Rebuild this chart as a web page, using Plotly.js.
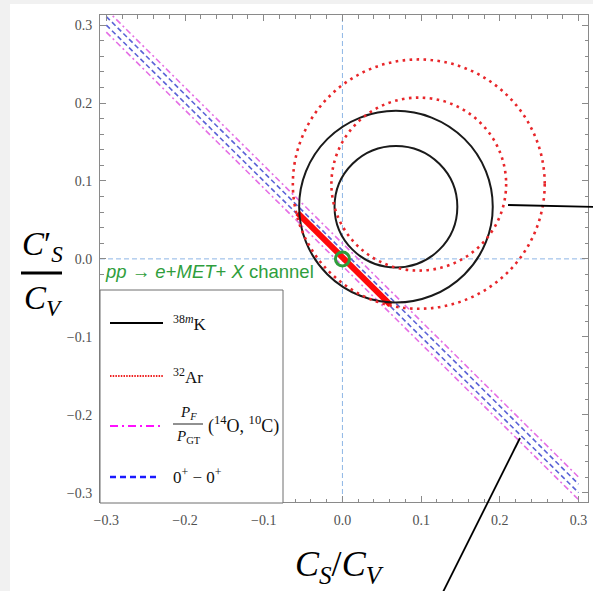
<!DOCTYPE html>
<html>
<head>
<meta charset="utf-8">
<script src="https://cdn.plot.ly/plotly-3.0.1.min.js"></script>
<style>
  html, body { margin: 0; padding: 0; background: #f1f1f1; width: 593px; height: 591px; overflow: hidden; }
  #plot { position: absolute; left: 10px; top: 4px; width: 583px; height: 587px; background: #ffffff; }
</style>
</head>
<body>
<div id="plot"></div>
<script>
// ---------------- data ----------------
// 38mK constraint: two concentric circles (solid black)
const k38Center = [0.068, 0.067];
const k38Radii = [0.078, 0.123];
// 32Ar constraint: two concentric circles (red dotted)
const ar32Center = [0.097, 0.096];
const ar32Radii = [0.111, 0.160];
// P_F/P_GT (14O, 10C) band edges (magenta dash-dot), end points
const pfX = [-0.300, 0.300];
const pfUpperY = [0.320, -0.280];
const pfLowerY = [0.291, -0.309];
// 0+ - 0+ band edges (blue dashed), end points
const zzX = [-0.300, 0.300];
const zzUpperY = [0.311, -0.289];
const zzLowerY = [0.300, -0.300];
// pp -> e + MET + X channel allowed segment (thick red)
const ppX = [-0.057, 0.061];
const ppY = [0.059, -0.059];
// Standard-model point
const smX = [0.0];
const smY = [0.0];
// tick values
const tickVals = [-0.3, -0.2, -0.1, 0.0, 0.1, 0.2, 0.3];
const tickText = ['\u22120.3', '\u22120.2', '\u22120.1', '0.0', '0.1', '0.2', '0.3'];

// ---------------- figure geometry helpers (page px -> paper) ----------------
const PL = 100, PR = 588, PT = 15, PB = 502;
const px = X => (X - PL) / (PR - PL);
const py = Y => (PB - Y) / (PB - PT);

const colBlack = '#1a1a1a';
const colRed = '#e8262a';
const colPink = '#e56fe5';
const colBlue = '#5a62d6';
const colZero = '#8db6e6';
const colGreen = '#2f9e3c';

const traces = [
  { x: pfX, y: pfUpperY, mode: 'lines', line: { color: colPink, width: 1.6, dash: '6px,3px,2px,3px' }, hoverinfo: 'skip', showlegend: false },
  { x: pfX, y: pfLowerY, mode: 'lines', line: { color: colPink, width: 1.6, dash: '6px,3px,2px,3px' }, hoverinfo: 'skip', showlegend: false },
  { x: zzX, y: zzUpperY, mode: 'lines', line: { color: colBlue, width: 1.6, dash: '5px,3px' }, hoverinfo: 'skip', showlegend: false },
  { x: zzX, y: zzLowerY, mode: 'lines', line: { color: colBlue, width: 1.6, dash: '5px,3px' }, hoverinfo: 'skip', showlegend: false },
  { x: ppX, y: ppY, mode: 'lines', line: { color: '#ff0a0a', width: 6 }, hoverinfo: 'skip', showlegend: false },
  { x: smX, y: smY, mode: 'markers', marker: { symbol: 'circle-open', size: 14, color: colGreen, line: { width: 3, color: colGreen } }, hoverinfo: 'skip', showlegend: false }
];

const shapes = [];
// zero lines
shapes.push({ type: 'line', xref: 'x', yref: 'paper', x0: 0, x1: 0, y0: 0, y1: 1, line: { color: colZero, width: 1, dash: '5px,3px' }, layer: 'below' });
shapes.push({ type: 'line', xref: 'paper', yref: 'y', x0: 0, x1: 1, y0: 0, y1: 0, line: { color: colZero, width: 1, dash: '5px,3px' }, layer: 'below' });
// circles
k38Radii.forEach(r => shapes.push({ type: 'circle', xref: 'x', yref: 'y',
  x0: k38Center[0] - r, x1: k38Center[0] + r, y0: k38Center[1] - r, y1: k38Center[1] + r,
  line: { color: colBlack, width: 2 } }));
ar32Radii.forEach(r => shapes.push({ type: 'circle', xref: 'x', yref: 'y',
  x0: ar32Center[0] - r, x1: ar32Center[0] + r, y0: ar32Center[1] - r, y1: ar32Center[1] + r,
  line: { color: colRed, width: 2.6, dash: '2.6px,4.4px' } }));

// legend box
shapes.push({ type: 'rect', xref: 'paper', yref: 'paper', x0: px(100), x1: px(283), y0: py(503), y1: py(290),
  fillcolor: '#ffffff', line: { color: '#6e6e6e', width: 1 }, layer: 'above' });
// legend samples
const legY = [323, 376, 426, 477];
shapes.push({ type: 'line', xref: 'paper', yref: 'paper', x0: px(110), x1: px(163), y0: py(legY[0]), y1: py(legY[0]), line: { color: '#000000', width: 2.2 } });
shapes.push({ type: 'line', xref: 'paper', yref: 'paper', x0: px(110), x1: px(163), y0: py(legY[1]), y1: py(legY[1]), line: { color: '#ee2020', width: 2, dash: '1.5px,1.2px' } });
shapes.push({ type: 'line', xref: 'paper', yref: 'paper', x0: px(110), x1: px(160), y0: py(legY[2]), y1: py(legY[2]), line: { color: '#ff10ff', width: 2.2, dash: '8px,4px,2px,4px' } });
shapes.push({ type: 'line', xref: 'paper', yref: 'paper', x0: px(110), x1: px(160), y0: py(legY[3]), y1: py(legY[3]), line: { color: '#1a1aff', width: 2.4, dash: '6px,4px' } });
// P_F / P_GT fraction bar
shapes.push({ type: 'line', xref: 'paper', yref: 'paper', x0: px(173), x1: px(203), y0: py(424), y1: py(424), line: { color: '#222', width: 1 } });
// axis-title fraction bar
shapes.push({ type: 'line', xref: 'paper', yref: 'paper', x0: px(21), x1: px(62), y0: py(273), y1: py(273), line: { color: '#000', width: 3 } });
// pointer lines
shapes.push({ type: 'line', xref: 'paper', yref: 'paper', x0: px(508), x1: px(596), y0: py(205), y1: py(207), line: { color: '#000', width: 1.8 } });
shapes.push({ type: 'line', xref: 'paper', yref: 'paper', x0: px(520), x1: px(442), y0: py(438), y1: py(594), line: { color: '#000', width: 1.8 } });

const serif = 'Liberation Serif, Times New Roman, serif';
const annotations = [
  { text: '<i>pp</i> \u2192 <i>e</i>+<i>MET</i>+ <i>X</i> channel', x: px(103), y: py(271), xref: 'paper', yref: 'paper', xanchor: 'left', yanchor: 'middle', showarrow: false,
    font: { family: 'Liberation Sans, Arial, sans-serif', size: 18.5, color: colGreen } },
  // legend labels
  { text: '<sup>38<i>m</i></sup>K', x: px(171), y: py(323), xref: 'paper', yref: 'paper', xanchor: 'left', yanchor: 'middle', showarrow: false, font: { family: serif, size: 17, color: '#111' } },
  { text: '<sup>32</sup>Ar', x: px(171), y: py(376), xref: 'paper', yref: 'paper', xanchor: 'left', yanchor: 'middle', showarrow: false, font: { family: serif, size: 17, color: '#111' } },
  { text: '<i>P<sub>F</sub></i>', x: px(188), y: py(413), xref: 'paper', yref: 'paper', xanchor: 'center', yanchor: 'middle', showarrow: false, font: { family: serif, size: 15, color: '#111' } },
  { text: '<i>P</i><sub>GT</sub>', x: px(188), y: py(437), xref: 'paper', yref: 'paper', xanchor: 'center', yanchor: 'middle', showarrow: false, font: { family: serif, size: 15, color: '#111' } },
  { text: '(<sup>14</sup>O, <sup>10</sup>C)', x: px(206), y: py(425), xref: 'paper', yref: 'paper', xanchor: 'left', yanchor: 'middle', showarrow: false, font: { family: serif, size: 18, color: '#111' } },
  { text: '0<sup>+</sup> \u2212 0<sup>+</sup>', x: px(171), y: py(476), xref: 'paper', yref: 'paper', xanchor: 'left', yanchor: 'middle', showarrow: false, font: { family: serif, size: 17, color: '#111' } },
  // axis titles
  { text: '<i>C</i>\u2032<sub><i>S</i></sub>', x: px(42), y: py(246), xref: 'paper', yref: 'paper', xanchor: 'center', yanchor: 'middle', showarrow: false, font: { family: serif, size: 33, color: '#000' } },
  { text: '<i>C<sub>V</sub></i>', x: px(43), y: py(300), xref: 'paper', yref: 'paper', xanchor: 'center', yanchor: 'middle', showarrow: false, font: { family: serif, size: 33, color: '#000' } },
  { text: '<i>C<sub>S</sub></i>/<i>C<sub>V</sub></i>', x: px(339), y: py(566), xref: 'paper', yref: 'paper', xanchor: 'center', yanchor: 'middle', showarrow: false, font: { family: serif, size: 36, color: '#000' } }
];

const axisCommon = {
  tickvals: tickVals, ticktext: tickText,
  ticks: 'inside', ticklen: 6, tickwidth: 1, tickcolor: '#8a8a8a',
  minor: { dtick: 0.02, tick0: 0, ticks: 'inside', ticklen: 3.5, tickcolor: '#8a8a8a', tickwidth: 1 },
  showline: true, linecolor: '#8a8a8a', linewidth: 1, mirror: 'allticks',
  showgrid: false, zeroline: false,
  tickfont: { family: serif, size: 14, color: '#505050' },
  fixedrange: true
};

const layout = {
  width: 583, height: 587,
  margin: { l: 90, r: 5, t: 11, b: 89 },
  paper_bgcolor: '#ffffff', plot_bgcolor: '#ffffff',
  showlegend: false,
  xaxis: Object.assign({}, axisCommon, { range: [-0.308, 0.312], ticklabelstandoff: 5 }),
  yaxis: Object.assign({}, axisCommon, { range: [-0.312, 0.313], ticklabelstandoff: 4 }),
  shapes: shapes,
  annotations: annotations
};

Plotly.newPlot('plot', traces, layout, { displayModeBar: false, staticPlot: true });
</script>
</body>
</html>
